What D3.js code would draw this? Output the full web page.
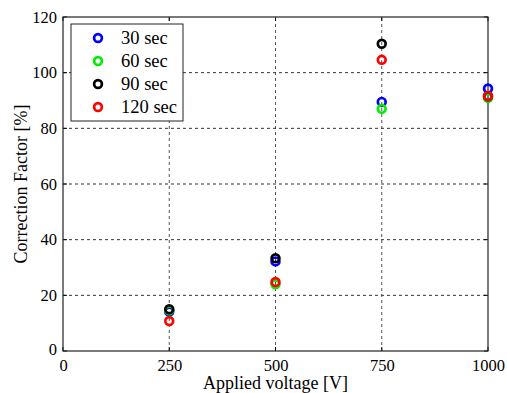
<!DOCTYPE html>
<html><head><meta charset="utf-8">
<script src="https://cdn.jsdelivr.net/npm/d3@7"></script>
<style>body{margin:0;background:#fff}svg{display:block}text{font-family:"Liberation Serif","Times New Roman",serif;fill:#000}</style>
</head><body>
<script>
const voltages = [250, 500, 750, 1000];
const seriesNames = ["30 sec", "60 sec", "90 sec", "120 sec"];
const seriesColors = ["#0000ff", "#00ee00", "#000000", "#ff0000"];
const s30 = [14.2, 32.2, 89.5, 94.3];
const s60 = [14.6, 24.0, 87.0, 91.0];
const s90 = [15.0, 33.3, 110.4, 91.5];
const s120 = [10.8, 24.8, 104.6, 91.6];
const seriesValues = [s30, s60, s90, s120];
const xTicks = [0, 250, 500, 750, 1000];
const yTicks = [0, 20, 40, 60, 80, 100, 120];

const W = 507, H = 393;
const m = {l: 63, r: 19, t: 17, b: 42};
const svg = d3.select("body").append("svg").attr("width", W).attr("height", H);
const x = d3.scaleLinear().domain([0, 1000]).range([m.l, W - m.r]);
const y = d3.scaleLinear().domain([0, 120]).range([H - m.b, m.t]);
const g = svg.append("g");

// grid
g.selectAll(".gx").data(xTicks.filter(d => d > 0 && d < 1000)).enter().append("line")
  .attr("x1", d => x(d)).attr("x2", d => x(d)).attr("y1", y(0)).attr("y2", y(120))
  .attr("stroke", "#555").attr("stroke-width", 1).attr("stroke-dasharray", "3,3");
g.selectAll(".gy").data(yTicks.filter(d => d > 0 && d < 120)).enter().append("line")
  .attr("x1", x(0)).attr("x2", x(1000)).attr("y1", d => y(d)).attr("y2", d => y(d))
  .attr("stroke", "#333").attr("stroke-width", 1).attr("stroke-dasharray", "3,3");

// axes
const ax = d3.axisBottom(x).tickValues(xTicks).tickFormat(d3.format("d")).tickSize(0).tickPadding(8);
const ay = d3.axisLeft(y).tickValues(yTicks).tickFormat(d3.format("d")).tickSize(0).tickPadding(6);
const gx = g.append("g").attr("transform", `translate(0,${y(0)})`).call(ax);
const gy = g.append("g").attr("transform", `translate(${x(0)},0)`).call(ay);
[gx, gy].forEach(a => { a.select(".domain").remove(); a.selectAll("text").style("font-size", "16.5px").style("font-family", "Liberation Serif").attr("fill", "#000"); });
gy.selectAll(".tick").filter(d => d === 0).select("text").attr("dy", "0.2em");

// inner ticks
const tl = 4;
xTicks.forEach(d => {
  g.append("line").attr("x1", x(d)).attr("x2", x(d)).attr("y1", y(0)).attr("y2", y(0) - tl).attr("stroke", "#000");
  g.append("line").attr("x1", x(d)).attr("x2", x(d)).attr("y1", y(120)).attr("y2", y(120) + tl).attr("stroke", "#000");
});
yTicks.forEach(d => {
  g.append("line").attr("x1", x(0)).attr("x2", x(0) + tl).attr("y1", y(d)).attr("y2", y(d)).attr("stroke", "#000");
  g.append("line").attr("x1", x(1000)).attr("x2", x(1000) - tl).attr("y1", y(d)).attr("y2", y(d)).attr("stroke", "#000");
});

// box
g.append("rect").attr("x", x(0)).attr("y", y(120)).attr("width", x(1000) - x(0)).attr("height", y(0) - y(120))
  .attr("fill", "none").attr("stroke", "#222").attr("stroke-width", 1.2);

// points
seriesValues.forEach((vals, i) => {
  g.selectAll(".p" + i).data(vals).enter().append("circle")
    .attr("cx", (d, j) => x(voltages[j])).attr("cy", d => y(d)).attr("r", 3.9)
    .attr("fill", "none").attr("stroke", seriesColors[i]).attr("stroke-width", 2.7);
});

// legend
const lg = g.append("g");
lg.append("rect").attr("x", 71).attr("y", 24).attr("width", 112).attr("height", 97)
  .attr("fill", "#fff").attr("stroke", "#222").attr("stroke-width", 1);
seriesNames.forEach((n, i) => {
  const yy = 38 + i * 23;
  lg.append("circle").attr("cx", 98).attr("cy", yy).attr("r", 3.9).attr("fill", "none")
    .attr("stroke", seriesColors[i]).attr("stroke-width", 2.7);
  lg.append("text").attr("x", 121).attr("y", yy).attr("dy", "0.35em").style("font-size", "18.5px").text(n);
});

// labels
svg.append("text").attr("x", (x(0) + x(1000)) / 2).attr("y", 389).attr("text-anchor", "middle")
  .style("font-size", "18px").text("Applied voltage [V]");
svg.append("text").attr("transform", `translate(27,${(y(0) + y(120)) / 2}) rotate(-90)`).attr("text-anchor", "middle")
  .style("font-size", "18px").text("Correction Factor [%]");
</script>
</body></html>
